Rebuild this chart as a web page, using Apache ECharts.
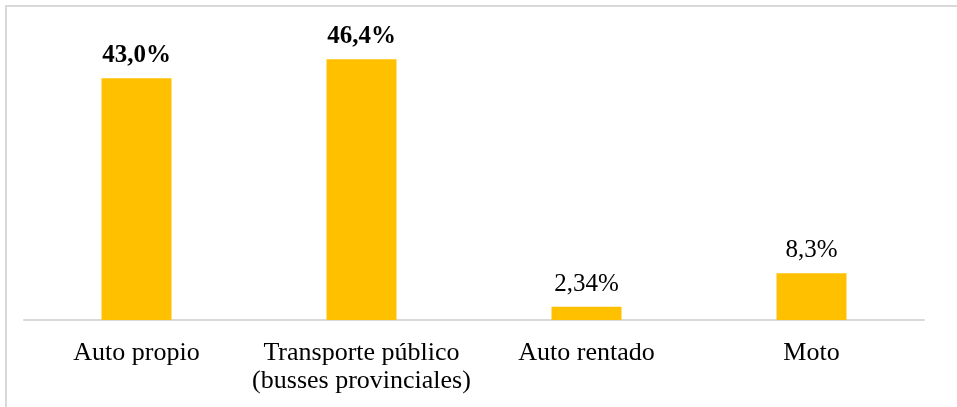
<!DOCTYPE html>
<html>
<head>
<meta charset="utf-8">
<script src="https://cdn.jsdelivr.net/npm/echarts@6/dist/echarts.min.js"></script>
<style>
  html, body { margin: 0; padding: 0; background: #fff; }
  #main { width: 957px; height: 407px; }
</style>
</head>
<body>
<div id="main"></div>
<script>
var categories = ["Auto propio", "Transporte público\n(busses provinciales)", "Auto rentado", "Moto"];
var values = [43.0, 46.4, 2.34, 8.3];
var valueLabels = ["43,0%", "46,4%", "2,34%", "8,3%"];
var boldLabels = [true, true, false, false];

var myChart = echarts.init(document.getElementById("main"));

var seriesData = values.map(function (v, i) {
  return {
    value: v,
    label: {
      formatter: valueLabels[i],
      fontWeight: boldLabels[i] ? "bold" : "normal"
    }
  };
});

var option = {
  animation: false,
  textStyle: { fontFamily: "Liberation Serif" },
  graphic: [
    {
      type: "rect",
      shape: { x: 6, y: 6, width: 1000, height: 500 },
      style: { fill: "none", stroke: "#d9d9d9", lineWidth: 2 },
      silent: true
    }
  ],
  grid: { left: 24, right: 33, top: 39, bottom: 87 },
  xAxis: {
    type: "category",
    data: categories,
    axisTick: { show: false },
    axisLine: { lineStyle: { color: "#d9d9d9", width: 2 } },
    axisLabel: {
      color: "#000",
      fontSize: 26,
      fontFamily: "Liberation Serif",
      lineHeight: 28,
      margin: 19,
      interval: 0
    }
  },
  yAxis: {
    type: "value",
    min: 0,
    max: 50,
    show: false,
    splitLine: { show: false }
  },
  series: [
    {
      type: "bar",
      barWidth: 70,
      itemStyle: { color: "#FFC000" },
      label: {
        show: true,
        position: "top",
        distance: 10,
        color: "#000",
        fontSize: 25,
        fontFamily: "Liberation Serif"
      },
      data: seriesData
    }
  ]
};

myChart.setOption(option);
</script>
</body>
</html>
